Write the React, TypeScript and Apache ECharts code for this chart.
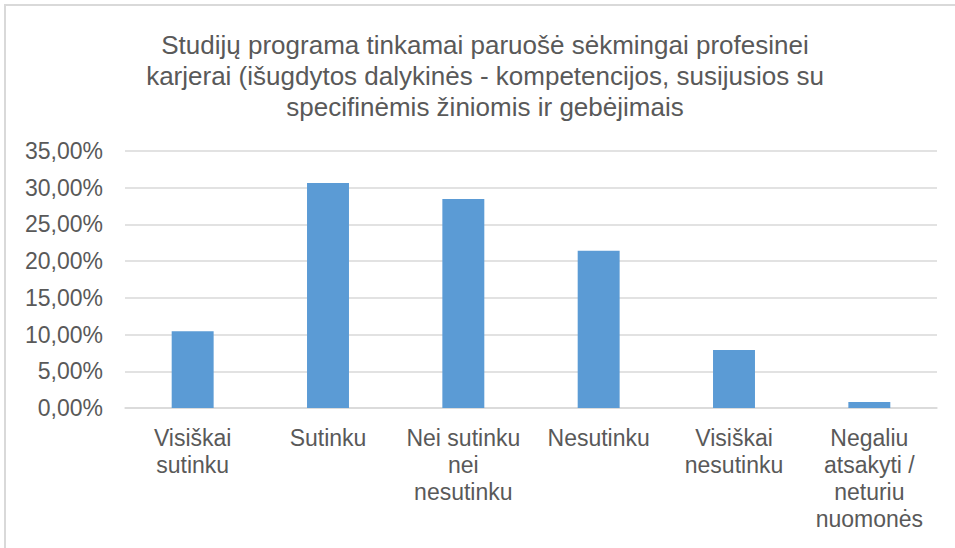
import React, { useEffect, useRef } from "react";
import * as echarts from "echarts";

const titleLines = [
  "Studijų programa tinkamai paruošė sėkmingai profesinei",
  "karjerai (išugdytos dalykinės - kompetencijos, susijusios su",
  "specifinėmis žiniomis ir gebėjimais",
];

const categories = [
  "Visiškai\nsutinku",
  "Sutinku",
  "Nei sutinku\nnei\nnesutinku",
  "Nesutinku",
  "Visiškai\nnesutinku",
  "Negaliu\natsakyti /\nneturiu\nnuomonės",
];

const values = [10.45, 30.64, 28.45, 21.42, 7.9, 0.82];

const yMin = 0;
const yMax = 35;
const yInterval = 5;

export default function App() {
  const ref = useRef<HTMLDivElement>(null);

  useEffect(() => {
    if (!ref.current) return;
    const chart = echarts.init(ref.current, null, { renderer: "svg" });
    const font = "'Liberation Sans', Arial, sans-serif";
    chart.setOption({
      animation: false,
      backgroundColor: "#ffffff",
      textStyle: { fontFamily: font },
      title: {
        text: titleLines.join("\n"),
        left: 480,
        textAlign: "center",
        top: 24,
        textStyle: {
          fontFamily: font,
          fontSize: 26,
          fontWeight: "normal",
          color: "#595959",
          lineHeight: 31,
        },
      },
      graphic: [
        {
          type: "rect",
          shape: { x: 5, y: 5, width: 1200, height: 1200 },
          style: { fill: "none", stroke: "#d9d9d9", lineWidth: 2 },
          silent: true,
          z: 0,
        },
      ],
      grid: { left: 125, right: 18, top: 151, bottom: 140, containLabel: false },
      xAxis: {
        type: "category",
        data: categories,
        axisTick: { show: false },
        axisLine: { lineStyle: { color: "#d9d9d9", width: 1.5 } },
        axisLabel: {
          interval: 0,
          margin: 16,
          fontFamily: font,
          fontSize: 23,
          lineHeight: 27,
          color: "#595959",
          align: "center",
        },
      },
      yAxis: {
        type: "value",
        min: yMin,
        max: yMax,
        interval: yInterval,
        axisLine: { show: false },
        axisTick: { show: false },
        splitLine: { lineStyle: { color: "#d9d9d9", width: 1.5 } },
        axisLabel: {
          margin: 22,
          fontFamily: font,
          fontSize: 23,
          color: "#595959",
          formatter: (v: number) => v.toFixed(2).replace(".", ",") + "%",
        },
      },
      series: [
        {
          type: "bar",
          data: values,
          barWidth: "31%",
          itemStyle: { color: "#5b9bd5" },
        },
      ],
    });
    return () => chart.dispose();
  }, []);

  return (
    <div
      ref={ref}
      style={{ position: "absolute", left: 0, top: 0, width: 955, height: 548 }}
    />
  );
}
